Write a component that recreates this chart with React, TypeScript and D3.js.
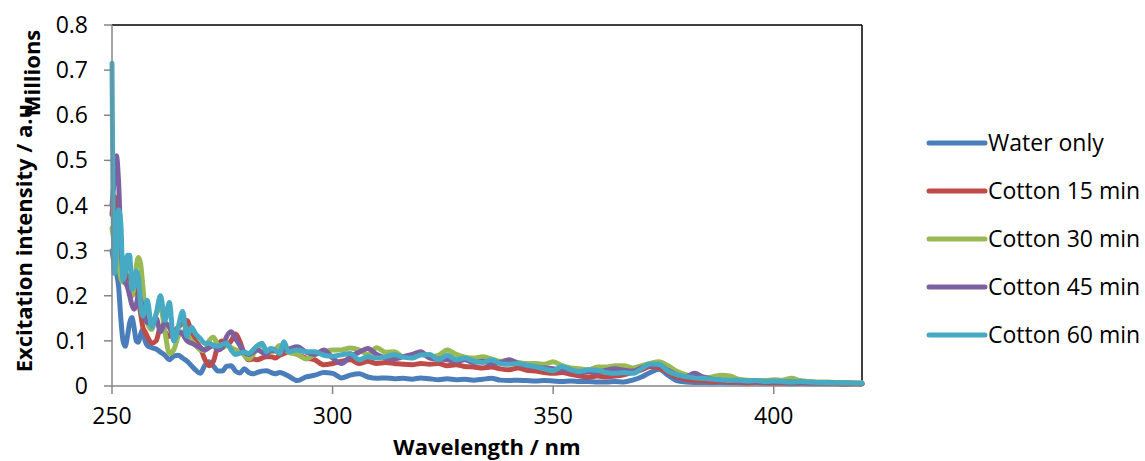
import React from 'react';
import * as d3 from 'd3';

// Sampling grid (nm)
const wavelengths = [
  250, 250.5, 251, 251.5, 252, 252.5, 253, 253.5, 254, 254.5, 255, 255.5, 256, 256.5, 257, 257.5, 258,
  259, 260, 261, 262, 263, 264, 265, 266, 267, 268,
  269, 270, 271, 272, 273, 274, 275, 276, 277, 278,
  279, 280, 281, 282, 283, 284, 285, 286, 287, 288,
  289, 290,
  292, 294, 296, 298, 300,
  302, 304, 306, 308, 310,
  312, 314, 316, 318, 320,
  322, 324, 326, 328, 330,
  332, 334, 336, 338, 340,
  342, 344, 346, 348, 350,
  352, 354, 356, 358, 360,
  362, 364, 366, 368, 370,
  372, 374, 376, 378, 380,
  382, 384, 386, 388, 390,
  392, 394, 396, 398, 400,
  402, 404, 406, 408, 410,
  412, 414, 416, 418, 420,
];

// Values in millions (a.u.)
const waterOnly = [
  0.30, 0.27, 0.25, 0.22, 0.15, 0.10, 0.088, 0.11, 0.14, 0.152, 0.13, 0.10, 0.097, 0.115, 0.125, 0.10, 0.09,
  0.085, 0.082, 0.075, 0.068, 0.058, 0.066, 0.068, 0.062, 0.055, 0.045,
  0.035, 0.028, 0.045, 0.054, 0.044, 0.033, 0.033, 0.044, 0.045, 0.033,
  0.029, 0.038, 0.03, 0.027, 0.03, 0.033, 0.034, 0.03, 0.027, 0.03,
  0.027, 0.022,
  0.012, 0.02, 0.024, 0.03, 0.028,
  0.018, 0.024, 0.027, 0.02, 0.017,
  0.018, 0.016, 0.017, 0.015, 0.018,
  0.016, 0.014, 0.016, 0.014, 0.015,
  0.013, 0.015, 0.017, 0.013, 0.012,
  0.013, 0.012, 0.011, 0.012, 0.011,
  0.01, 0.011, 0.01, 0.01, 0.009,
  0.009, 0.01, 0.009, 0.013, 0.02,
  0.03, 0.037, 0.024, 0.012, 0.009,
  0.008, 0.008, 0.007, 0.008, 0.007,
  0.007, 0.006, 0.007, 0.006, 0.006,
  0.006, 0.005, 0.006, 0.005, 0.005,
  0.005, 0.005, 0.004, 0.005, 0.005,
];

const cotton15 = [
  0.38, 0.42, 0.40, 0.33, 0.27, 0.24, 0.25, 0.24, 0.21, 0.20, 0.21, 0.22, 0.19, 0.16, 0.13, 0.12, 0.11,
  0.095, 0.10, 0.13, 0.12, 0.11, 0.12, 0.13, 0.14, 0.145, 0.12,
  0.10, 0.085, 0.06, 0.045, 0.055, 0.09, 0.10, 0.09, 0.10, 0.115,
  0.098, 0.07, 0.058, 0.06, 0.058, 0.062, 0.065, 0.065, 0.062, 0.068,
  0.072, 0.076,
  0.07, 0.062, 0.058, 0.047, 0.05,
  0.055, 0.058, 0.05, 0.055, 0.05,
  0.052, 0.05, 0.048, 0.047, 0.05,
  0.048, 0.05, 0.045, 0.047, 0.043,
  0.042, 0.04, 0.042, 0.038, 0.036,
  0.04, 0.035, 0.033, 0.03, 0.028,
  0.03, 0.026, 0.022, 0.02, 0.022,
  0.02, 0.022, 0.025, 0.03, 0.036,
  0.043, 0.04, 0.03, 0.02, 0.015,
  0.012, 0.012, 0.01, 0.011, 0.009,
  0.009, 0.008, 0.009, 0.008, 0.008,
  0.007, 0.008, 0.007, 0.007, 0.006,
  0.006, 0.006, 0.005, 0.005, 0.005,
];

const cotton30 = [
  0.35, 0.32, 0.30, 0.27, 0.24, 0.23, 0.23, 0.22, 0.21, 0.20, 0.22, 0.265, 0.285, 0.27, 0.22, 0.17, 0.14,
  0.125, 0.16, 0.175, 0.12, 0.072, 0.08, 0.11, 0.12, 0.115, 0.10,
  0.09, 0.08, 0.078, 0.10, 0.108, 0.09, 0.085, 0.09, 0.085, 0.08,
  0.078, 0.068, 0.06, 0.07, 0.085, 0.09, 0.08, 0.075, 0.08, 0.09,
  0.085, 0.075,
  0.07, 0.06, 0.07, 0.075, 0.08,
  0.08, 0.084, 0.08, 0.07, 0.085,
  0.075, 0.076, 0.065, 0.068, 0.07,
  0.065, 0.068, 0.08, 0.07, 0.064,
  0.062, 0.065, 0.06, 0.055, 0.056,
  0.052, 0.05, 0.05, 0.048, 0.054,
  0.045, 0.04, 0.038, 0.036, 0.042,
  0.042, 0.045, 0.045, 0.04, 0.045,
  0.05, 0.054, 0.045, 0.033, 0.025,
  0.02, 0.018, 0.02, 0.024, 0.022,
  0.015, 0.013, 0.012, 0.012, 0.014,
  0.013, 0.017, 0.012, 0.01, 0.009,
  0.009, 0.008, 0.008, 0.007, 0.007,
];

const cotton45 = [
  0.40, 0.46, 0.51, 0.45, 0.32, 0.25, 0.23, 0.22, 0.20, 0.18, 0.17, 0.18, 0.20, 0.19, 0.17, 0.15, 0.14,
  0.145, 0.15, 0.12, 0.14, 0.13, 0.11, 0.12, 0.115, 0.10, 0.095,
  0.09, 0.085, 0.08, 0.085, 0.09, 0.08, 0.085, 0.11, 0.12, 0.105,
  0.09, 0.075, 0.07, 0.075, 0.08, 0.075, 0.07, 0.08, 0.078, 0.075,
  0.08, 0.082,
  0.087, 0.075, 0.07, 0.08, 0.062,
  0.05, 0.065, 0.075, 0.083, 0.07,
  0.062, 0.06, 0.065, 0.07, 0.076,
  0.062, 0.06, 0.058, 0.055, 0.058,
  0.052, 0.055, 0.05, 0.052, 0.058,
  0.05, 0.045, 0.042, 0.04, 0.038,
  0.036, 0.035, 0.03, 0.032, 0.03,
  0.035, 0.038, 0.035, 0.033, 0.04,
  0.047, 0.046, 0.035, 0.025, 0.02,
  0.028, 0.02, 0.015, 0.013, 0.012,
  0.011, 0.01, 0.011, 0.009, 0.01,
  0.009, 0.009, 0.008, 0.008, 0.007,
  0.007, 0.006, 0.006, 0.006, 0.005,
];

const cotton60 = [
  0.715, 0.25, 0.30, 0.39, 0.36, 0.235, 0.25, 0.29, 0.29, 0.215, 0.22, 0.255, 0.24, 0.18, 0.155, 0.17, 0.19,
  0.13, 0.16, 0.20, 0.145, 0.185, 0.10, 0.13, 0.165, 0.11, 0.13,
  0.115, 0.105, 0.095, 0.095, 0.09, 0.088, 0.092, 0.095, 0.08, 0.07,
  0.073, 0.075, 0.072, 0.08, 0.09, 0.095, 0.076, 0.083, 0.08, 0.072,
  0.098, 0.076,
  0.08, 0.076, 0.076, 0.068, 0.066,
  0.069, 0.072, 0.058, 0.065, 0.062,
  0.065, 0.069, 0.064, 0.062, 0.069,
  0.07, 0.058, 0.068, 0.058, 0.062,
  0.055, 0.052, 0.058, 0.05, 0.048,
  0.05, 0.046, 0.043, 0.038, 0.034,
  0.043, 0.036, 0.032, 0.036, 0.035,
  0.03, 0.028, 0.03, 0.028, 0.038,
  0.049, 0.048, 0.033, 0.025, 0.021,
  0.018, 0.017, 0.015, 0.014, 0.012,
  0.013, 0.011, 0.012, 0.01, 0.011,
  0.01, 0.009, 0.01, 0.009, 0.008,
  0.008, 0.007, 0.007, 0.006, 0.006,
];

const seriesNames = ['Water only', 'Cotton 15 min', 'Cotton 30 min', 'Cotton 45 min', 'Cotton 60 min'];
const seriesValues = [waterOnly, cotton15, cotton30, cotton45, cotton60];
const seriesColors = ['#4A7EBB', '#BE4B48', '#98B954', '#7D60A0', '#46AAC5'];

const xTicks = [250, 300, 350, 400];
const yTicks = [0, 0.1, 0.2, 0.3, 0.4, 0.5, 0.6, 0.7, 0.8];

const FONT = '"Open Sans", "Noto Sans", sans-serif';

export default function App() {
  const W = 1145;
  const H = 461;
  const left = 112;
  const right = 862;
  const top = 25;
  const bottom = 386;

  const x = d3.scaleLinear().domain([250, 420]).range([left, right]);
  const y = d3.scaleLinear().domain([0, 0.8]).range([bottom, top]);

  const line = d3
    .line<number>()
    .x((_, i) => x(wavelengths[i]))
    .y((d) => y(d))
    .curve(d3.curveMonotoneX);

  const axisColor = '#868686';

  return (
    <svg
      width={W}
      height={H}
      style={{ position: 'absolute', left: 0, top: 0, background: '#fff' }}
      fontFamily={FONT}
    >
      <rect x={0} y={0} width={W} height={H} fill="#fff" />
      {/* plot frame */}
      <line x1={left} x2={right} y1={top} y2={top} stroke="#000" strokeWidth={1.5} />
      <line x1={right} x2={right} y1={top} y2={bottom} stroke="#000" strokeWidth={1.5} />

      {/* series */}
      {seriesValues.map((vals, si) => (
        <path
          key={seriesNames[si]}
          d={line(vals) || ''}
          fill="none"
          stroke={seriesColors[si]}
          strokeWidth={5}
          strokeLinejoin="round"
          strokeLinecap="round"
        />
      ))}

      {/* axes */}
      <line x1={left} x2={left} y1={top} y2={bottom} stroke={axisColor} strokeWidth={1.5} />
      <line x1={left} x2={right} y1={bottom} y2={bottom} stroke={axisColor} strokeWidth={1.5} />
      {yTicks.map((t) => (
        <g key={'y' + t}>
          <line x1={left - 8} x2={left} y1={y(t)} y2={y(t)} stroke={axisColor} strokeWidth={1.5} />
          <text x={88} y={y(t)} dy="0.35em" textAnchor="end" fontSize={23} fill="#000">
            {t === 0 ? '0' : t.toFixed(1)}
          </text>
        </g>
      ))}
      {xTicks.map((t) => (
        <g key={'x' + t}>
          <line x1={x(t)} x2={x(t)} y1={bottom} y2={bottom + 8} stroke={axisColor} strokeWidth={1.5} />
          <text x={x(t)} y={424} textAnchor="middle" fontSize={23} fill="#000">
            {t}
          </text>
        </g>
      ))}

      {/* axis titles */}
      <text x={487} y={455} textAnchor="middle" fontSize={22} fontWeight="bold" fill="#000">
        Wavelength / nm
      </text>
      <text
        transform={`translate(32, 235) rotate(-90)`}
        textAnchor="middle"
        fontSize={22}
        fontWeight="bold"
        fill="#000"
      >
        Excitation intensity / a.u.
      </text>
      <text
        transform={`translate(40, 73) rotate(-90)`}
        textAnchor="middle"
        fontSize={22}
        fontWeight="bold"
        fill="#000"
      >
        Millions
      </text>

      {/* legend */}
      {seriesNames.map((name, i) => {
        const ly = 143 + i * 48;
        return (
          <g key={'lg' + name}>
            <line x1={929} x2={985} y1={ly} y2={ly} stroke={seriesColors[i]} strokeWidth={5} strokeLinecap="round" />
            <text x={988} y={ly + 8} fontSize={23} fill="#000">
              {name}
            </text>
          </g>
        );
      })}
    </svg>
  );
}
